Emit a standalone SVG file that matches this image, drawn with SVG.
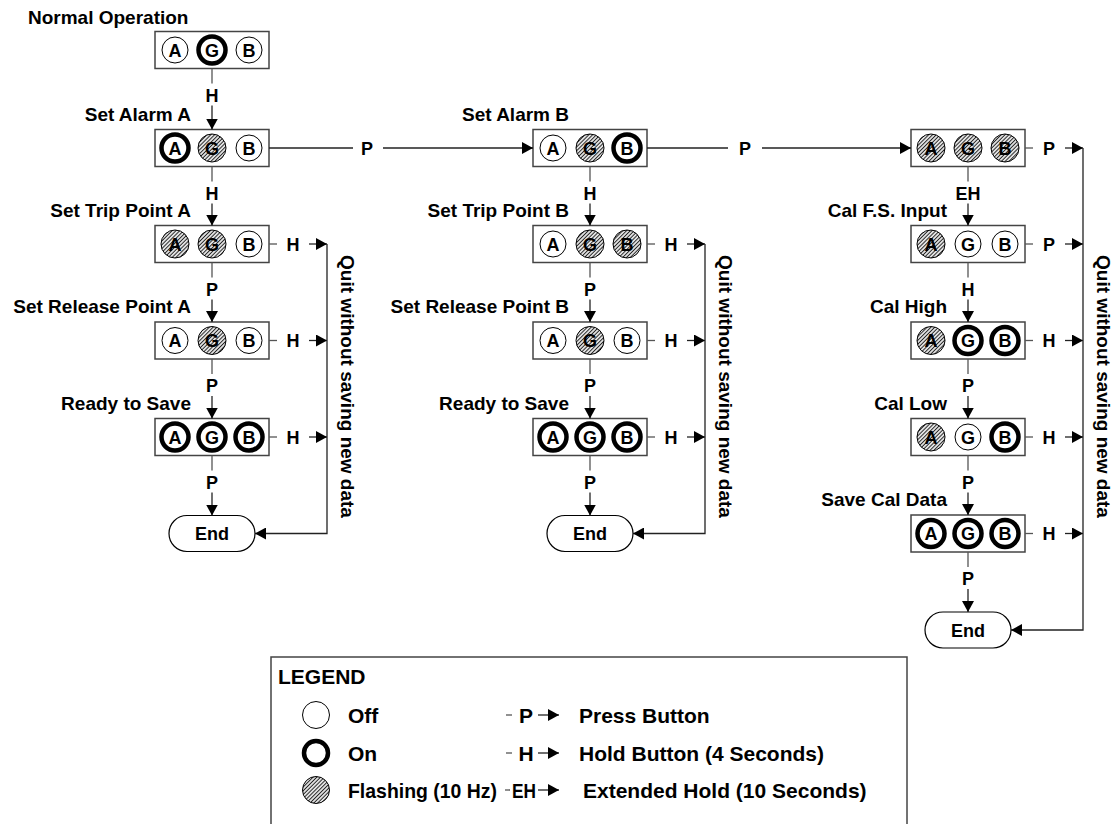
<svg xmlns="http://www.w3.org/2000/svg" width="1116" height="824" viewBox="0 0 1116 824">
<style>
text{font-family:"Liberation Sans",Arial,sans-serif;font-weight:bold;fill:#000}
.lbl{font-size:19px;text-anchor:end}
.lt{font-size:18px;text-anchor:middle}
.cl{font-size:18px;text-anchor:middle}
.box{fill:#fff;stroke:#444;stroke-width:1.5}
.off{fill:#fff;stroke:#000;stroke-width:1}
.on{fill:#fff;stroke:#000;stroke-width:4.5}
.fl{fill:url(#hatch);stroke:#000;stroke-width:1}
.end{fill:#fff;stroke:#000;stroke-width:1.2}
.ln{fill:none;stroke:#222;stroke-width:1.3}
.st{fill:none;stroke:#555;stroke-width:1.3}
.qt{font-size:19px;text-anchor:middle}
.lg{font-size:21px}
</style>
<defs>
<pattern id="hatch" patternUnits="userSpaceOnUse" width="2.7" height="2.7" patternTransform="rotate(45)">
<rect width="2.7" height="2.7" fill="#fff"/>
<line x1="1.35" y1="0" x2="1.35" y2="2.7" stroke="#222" stroke-width="1.15"/>
</pattern>
<marker id="arr" viewBox="0 0 10 10" refX="10" refY="5" markerUnits="userSpaceOnUse" markerWidth="11" markerHeight="12" preserveAspectRatio="none" orient="auto">
<path d="M0,0 L10,5 L0,10 z" fill="#000"/>
</marker>
</defs>

<!-- Column 1 -->
<g id="normal">
<text x="28" y="24" style="font-size:19px">Normal Operation</text>
<rect class="box" x="155" y="31.5" width="114" height="37"/>
<circle class="off" cx="175" cy="50" r="13"/><text class="lt" x="175" y="56.5">A</text>
<circle class="on" cx="212" cy="50" r="13.5"/><text class="lt" x="212" y="56.5">G</text>
<circle class="off" cx="249" cy="50" r="13"/><text class="lt" x="249" y="56.5">B</text>
</g>
<g id="alarmA">
<text class="lbl" x="191" y="120.5">Set Alarm A</text>
<rect class="box" x="155" y="129.5" width="114" height="37"/>
<circle class="on" cx="175" cy="148" r="13.5"/><text class="lt" x="175" y="154.5">A</text>
<circle class="fl" cx="212" cy="148" r="14"/><text class="lt" x="212" y="154.5">G</text>
<circle class="off" cx="249" cy="148" r="13"/><text class="lt" x="249" y="154.5">B</text>
</g>
<g id="tripA">
<text class="lbl" x="191" y="216.5">Set Trip Point A</text>
<rect class="box" x="155" y="225.5" width="114" height="37"/>
<circle class="fl" cx="175" cy="244" r="14"/><text class="lt" x="175" y="250.5">A</text>
<circle class="fl" cx="212" cy="244" r="14"/><text class="lt" x="212" y="250.5">G</text>
<circle class="off" cx="249" cy="244" r="13"/><text class="lt" x="249" y="250.5">B</text>
</g>
<g id="releaseA">
<text class="lbl" x="191" y="313">Set Release Point A</text>
<rect class="box" x="155" y="322" width="114" height="37"/>
<circle class="off" cx="175" cy="340.5" r="13"/><text class="lt" x="175" y="347">A</text>
<circle class="fl" cx="212" cy="340.5" r="14"/><text class="lt" x="212" y="347">G</text>
<circle class="off" cx="249" cy="340.5" r="13"/><text class="lt" x="249" y="347">B</text>
</g>
<g id="readyA">
<text class="lbl" x="191" y="409.5">Ready to Save</text>
<rect class="box" x="155" y="418.5" width="114" height="37"/>
<circle class="on" cx="175" cy="437" r="13.5"/><text class="lt" x="175" y="443.5">A</text>
<circle class="on" cx="212" cy="437" r="13.5"/><text class="lt" x="212" y="443.5">G</text>
<circle class="on" cx="249" cy="437" r="13.5"/><text class="lt" x="249" y="443.5">B</text>
</g>
<g id="endA">
<rect class="end" x="169" y="515.5" width="86" height="36" rx="18"/>
<text class="cl" x="212" y="540">End</text>
</g>

<!-- Column 2 -->
<g id="alarmB">
<text class="lbl" x="569" y="120.5">Set Alarm B</text>
<rect class="box" x="533" y="129.5" width="114" height="37"/>
<circle class="off" cx="553" cy="148" r="13"/><text class="lt" x="553" y="154.5">A</text>
<circle class="fl" cx="590" cy="148" r="14"/><text class="lt" x="590" y="154.5">G</text>
<circle class="on" cx="627" cy="148" r="13.5"/><text class="lt" x="627" y="154.5">B</text>
</g>
<g id="tripB">
<text class="lbl" x="569" y="216.5">Set Trip Point B</text>
<rect class="box" x="533" y="225.5" width="114" height="37"/>
<circle class="off" cx="553" cy="244" r="13"/><text class="lt" x="553" y="250.5">A</text>
<circle class="fl" cx="590" cy="244" r="14"/><text class="lt" x="590" y="250.5">G</text>
<circle class="fl" cx="627" cy="244" r="14"/><text class="lt" x="627" y="250.5">B</text>
</g>
<g id="releaseB">
<text class="lbl" x="569" y="313">Set Release Point B</text>
<rect class="box" x="533" y="322" width="114" height="37"/>
<circle class="off" cx="553" cy="340.5" r="13"/><text class="lt" x="553" y="347">A</text>
<circle class="fl" cx="590" cy="340.5" r="14"/><text class="lt" x="590" y="347">G</text>
<circle class="off" cx="627" cy="340.5" r="13"/><text class="lt" x="627" y="347">B</text>
</g>
<g id="readyB">
<text class="lbl" x="569" y="409.5">Ready to Save</text>
<rect class="box" x="533" y="418.5" width="114" height="37"/>
<circle class="on" cx="553" cy="437" r="13.5"/><text class="lt" x="553" y="443.5">A</text>
<circle class="on" cx="590" cy="437" r="13.5"/><text class="lt" x="590" y="443.5">G</text>
<circle class="on" cx="627" cy="437" r="13.5"/><text class="lt" x="627" y="443.5">B</text>
</g>
<g id="endB">
<rect class="end" x="547" y="515.5" width="86" height="36" rx="18"/>
<text class="cl" x="590" y="540">End</text>
</g>

<!-- Column 3 -->
<g id="calStart">
<rect class="box" x="911" y="129.5" width="114" height="37"/>
<circle class="fl" cx="931" cy="148" r="14"/><text class="lt" x="931" y="154.5">A</text>
<circle class="fl" cx="968" cy="148" r="14"/><text class="lt" x="968" y="154.5">G</text>
<circle class="fl" cx="1005" cy="148" r="14"/><text class="lt" x="1005" y="154.5">B</text>
</g>
<g id="calFS">
<text class="lbl" x="947" y="216.5">Cal F.S. Input</text>
<rect class="box" x="911" y="225.5" width="114" height="37"/>
<circle class="fl" cx="931" cy="244" r="14"/><text class="lt" x="931" y="250.5">A</text>
<circle class="off" cx="968" cy="244" r="13"/><text class="lt" x="968" y="250.5">G</text>
<circle class="off" cx="1005" cy="244" r="13"/><text class="lt" x="1005" y="250.5">B</text>
</g>
<g id="calHigh">
<text class="lbl" x="947" y="313">Cal High</text>
<rect class="box" x="911" y="322" width="114" height="37"/>
<circle class="fl" cx="931" cy="340.5" r="14"/><text class="lt" x="931" y="347">A</text>
<circle class="on" cx="968" cy="340.5" r="13.5"/><text class="lt" x="968" y="347">G</text>
<circle class="on" cx="1005" cy="340.5" r="13.5"/><text class="lt" x="1005" y="347">B</text>
</g>
<g id="calLow">
<text class="lbl" x="947" y="409.5">Cal Low</text>
<rect class="box" x="911" y="418.5" width="114" height="37"/>
<circle class="fl" cx="931" cy="437" r="14"/><text class="lt" x="931" y="443.5">A</text>
<circle class="off" cx="968" cy="437" r="13"/><text class="lt" x="968" y="443.5">G</text>
<circle class="on" cx="1005" cy="437" r="13.5"/><text class="lt" x="1005" y="443.5">B</text>
</g>
<g id="saveCal">
<text class="lbl" x="947" y="506">Save Cal Data</text>
<rect class="box" x="911" y="515" width="114" height="37"/>
<circle class="on" cx="931" cy="533.5" r="13.5"/><text class="lt" x="931" y="540">A</text>
<circle class="on" cx="968" cy="533.5" r="13.5"/><text class="lt" x="968" y="540">G</text>
<circle class="on" cx="1005" cy="533.5" r="13.5"/><text class="lt" x="1005" y="540">B</text>
</g>
<g id="endC">
<rect class="end" x="925" y="612" width="86" height="36" rx="18"/>
<text class="cl" x="968" y="636.5">End</text>
</g>

<g id="connectors">
<!-- column 1 vertical -->
<path class="st" d="M212,68.5V83.5"/><text class="cl" x="212" y="101.5">H</text><path class="ln" d="M212,105.5V129.5" marker-end="url(#arr)"/>
<path class="st" d="M212,166.5V181.5"/><text class="cl" x="212" y="199.5">H</text><path class="ln" d="M212,203.5V225.5" marker-end="url(#arr)"/>
<path class="st" d="M212,262.5V277.5"/><text class="cl" x="212" y="295.5">P</text><path class="ln" d="M212,299.5V322" marker-end="url(#arr)"/>
<path class="st" d="M212,359V374"/><text class="cl" x="212" y="392">P</text><path class="ln" d="M212,396V418.5" marker-end="url(#arr)"/>
<path class="st" d="M212,455.5V470.5"/><text class="cl" x="212" y="488.5">P</text><path class="ln" d="M212,492.5V515.5" marker-end="url(#arr)"/>
<!-- column 1 side -->
<path class="st" d="M269,244H277"/><text class="cl" x="293" y="250.5">H</text><path class="ln" d="M309,244H327" marker-end="url(#arr)"/>
<path class="st" d="M269,340.5H277"/><text class="cl" x="293" y="347">H</text><path class="ln" d="M309,340.5H327" marker-end="url(#arr)"/>
<path class="st" d="M269,437H277"/><text class="cl" x="293" y="443.5">H</text><path class="ln" d="M309,437H327" marker-end="url(#arr)"/>
<path class="ln" d="M327,244V533.5H255" marker-end="url(#arr)"/>
<text class="qt" transform="translate(341,386.5) rotate(90)">Quit without saving new data</text>
<!-- top row P connectors -->
<path class="ln" d="M269,148H353"/><text class="cl" x="367" y="154.5">P</text><path class="ln" d="M383,148H533" marker-end="url(#arr)"/>
<path class="ln" d="M647,148H728"/><text class="cl" x="745" y="154.5">P</text><path class="ln" d="M762,148H911" marker-end="url(#arr)"/>
<!-- column 2 vertical -->
<path class="st" d="M590,166.5V181.5"/><text class="cl" x="590" y="199.5">H</text><path class="ln" d="M590,203.5V225.5" marker-end="url(#arr)"/>
<path class="st" d="M590,262.5V277.5"/><text class="cl" x="590" y="295.5">P</text><path class="ln" d="M590,299.5V322" marker-end="url(#arr)"/>
<path class="st" d="M590,359V374"/><text class="cl" x="590" y="392">P</text><path class="ln" d="M590,396V418.5" marker-end="url(#arr)"/>
<path class="st" d="M590,455.5V470.5"/><text class="cl" x="590" y="488.5">P</text><path class="ln" d="M590,492.5V515.5" marker-end="url(#arr)"/>
<!-- column 2 side -->
<path class="st" d="M647,244H655"/><text class="cl" x="671" y="250.5">H</text><path class="ln" d="M687,244H705" marker-end="url(#arr)"/>
<path class="st" d="M647,340.5H655"/><text class="cl" x="671" y="347">H</text><path class="ln" d="M687,340.5H705" marker-end="url(#arr)"/>
<path class="st" d="M647,437H655"/><text class="cl" x="671" y="443.5">H</text><path class="ln" d="M687,437H705" marker-end="url(#arr)"/>
<path class="ln" d="M705,244V533.5H633" marker-end="url(#arr)"/>
<text class="qt" transform="translate(719,386.5) rotate(90)">Quit without saving new data</text>
<!-- column 3 vertical -->
<path class="st" d="M968,166.5V181.5"/><text class="cl" x="968" y="199.5">EH</text><path class="ln" d="M968,203.5V225.5" marker-end="url(#arr)"/>
<path class="st" d="M968,262.5V277.5"/><text class="cl" x="968" y="295.5">H</text><path class="ln" d="M968,299.5V322" marker-end="url(#arr)"/>
<path class="st" d="M968,359V374"/><text class="cl" x="968" y="392">P</text><path class="ln" d="M968,396V418.5" marker-end="url(#arr)"/>
<path class="st" d="M968,455.5V470.5"/><text class="cl" x="968" y="488.5">P</text><path class="ln" d="M968,492.5V515" marker-end="url(#arr)"/>
<path class="st" d="M968,552V567"/><text class="cl" x="968" y="585">P</text><path class="ln" d="M968,589V612" marker-end="url(#arr)"/>
<!-- column 3 side -->
<path class="st" d="M1025,148H1033"/><text class="cl" x="1049" y="154.5">P</text><path class="ln" d="M1065,148H1083" marker-end="url(#arr)"/>
<path class="st" d="M1025,244H1033"/><text class="cl" x="1049" y="250.5">P</text><path class="ln" d="M1065,244H1083" marker-end="url(#arr)"/>
<path class="st" d="M1025,340.5H1033"/><text class="cl" x="1049" y="347">H</text><path class="ln" d="M1065,340.5H1083" marker-end="url(#arr)"/>
<path class="st" d="M1025,437H1033"/><text class="cl" x="1049" y="443.5">H</text><path class="ln" d="M1065,437H1083" marker-end="url(#arr)"/>
<path class="st" d="M1025,533.5H1033"/><text class="cl" x="1049" y="540">H</text><path class="ln" d="M1065,533.5H1083" marker-end="url(#arr)"/>
<path class="ln" d="M1083,148V630H1011" marker-end="url(#arr)"/>
<text class="qt" transform="translate(1097,386.5) rotate(90)">Quit without saving new data</text>
</g>

<g id="legend">
<rect x="271" y="657" width="636" height="180" fill="#fff" stroke="#444" stroke-width="1.5"/>
<text class="lg" x="278" y="684">LEGEND</text>
<circle class="off" cx="316" cy="715" r="13.5"/>
<text class="lg" x="348" y="722.5">Off</text>
<circle class="on" cx="316" cy="753" r="12"/>
<text class="lg" x="348" y="760.5">On</text>
<circle class="fl" cx="316" cy="790" r="13.5"/>
<text class="lg" x="348" y="797.5" textLength="149" lengthAdjust="spacingAndGlyphs">Flashing (10 Hz)</text>
<path class="st" d="M506,715H512"/><text class="lg" x="526" y="722.5" text-anchor="middle">P</text><path class="ln" d="M538,715H559" marker-end="url(#arr)"/>
<path class="st" d="M506,753H512"/><text class="lg" x="526" y="760.5" text-anchor="middle">H</text><path class="ln" d="M538,753H559" marker-end="url(#arr)"/>
<path class="st" d="M505,790H510"/><text class="lg" x="524" y="797.5" text-anchor="middle" textLength="24" lengthAdjust="spacingAndGlyphs">EH</text><path class="ln" d="M538,790H559" marker-end="url(#arr)"/>
<text class="lg" x="579" y="722.5">Press Button</text>
<text class="lg" x="579" y="760.5">Hold Button (4 Seconds)</text>
<text class="lg" x="583" y="797.5">Extended Hold (10 Seconds)</text>
</g>
</svg>
